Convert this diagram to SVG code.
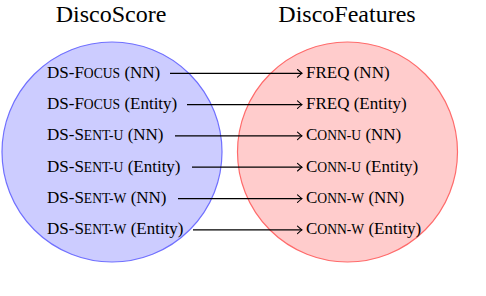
<svg xmlns="http://www.w3.org/2000/svg" width="486" height="296" viewBox="0 0 486 296">
<defs>
<style>
text{font-family:'Liberation Serif','Tinos','Nimbus Roman','Times New Roman','DejaVu Serif',serif;fill:#000}
.t{font-size:24px;text-anchor:middle}
.l{font-size:17px}
.sc{font-size:13.6px}
.c{stroke:#000;stroke-width:1.2;fill:none}
</style>
<marker id="ah" markerUnits="userSpaceOnUse" viewBox="-6 -5 7 10" refX="0" refY="0" markerWidth="7" markerHeight="10" orient="auto" overflow="visible">
<path d="M-4.5,-3.8 Q-1.2,-0.8 0,0 Q-1.2,0.8 -4.5,3.8" fill="none" stroke="#000" stroke-width="1.1" stroke-linecap="round"/>
</marker>
</defs>
<rect width="486" height="296" fill="#fff"/>
<g id="discoscore">
<circle cx="112" cy="152" r="110" fill="#ccccff" stroke="#7070ff" stroke-width="1.2"/>
<text class="t" x="111" y="21.5" font-family="Liberation Serif, serif">DiscoScore</text>
</g>
<g id="discofeatures">
<circle cx="347.5" cy="152" r="110" fill="#ffcccc" stroke="#ff6b6b" stroke-width="1.2"/>
<text class="t" x="347" y="21.5" font-family="Liberation Serif, serif">DiscoFeatures</text>
</g>
<g id="left-labels" font-family="Liberation Serif, serif">
<text class="l" x="47" y="77.8">DS-F<tspan class="sc">OCUS</tspan> (NN)</text>
<text class="l" x="47" y="109.1">DS-F<tspan class="sc">OCUS</tspan> (Entity)</text>
<text class="l" x="47" y="140.4">DS-S<tspan class="sc">ENT-U</tspan> (NN)</text>
<text class="l" x="47" y="171.7">DS-S<tspan class="sc">ENT-U</tspan> (Entity)</text>
<text class="l" x="47" y="203.1">DS-S<tspan class="sc">ENT-W</tspan> (NN)</text>
<text class="l" x="47" y="234.4">DS-S<tspan class="sc">ENT-W</tspan> (Entity)</text>
</g>
<g id="right-labels" font-family="Liberation Serif, serif">
<text class="l" x="306" y="77.8">FREQ (NN)</text>
<text class="l" x="306" y="109.1">FREQ (Entity)</text>
<text class="l" x="306" y="140.4">C<tspan class="sc">ONN-U</tspan> (NN)</text>
<text class="l" x="306" y="171.7">C<tspan class="sc">ONN-U</tspan> (Entity)</text>
<text class="l" x="306" y="203.1">C<tspan class="sc">ONN-W</tspan> (NN)</text>
<text class="l" x="306" y="234.4">C<tspan class="sc">ONN-W</tspan> (Entity)</text>
</g>
<g id="connectors">
<line class="c" x1="170" y1="73.3" x2="302" y2="73.3" marker-end="url(#ah)"/>
<line class="c" x1="187" y1="104.6" x2="302" y2="104.6" marker-end="url(#ah)"/>
<line class="c" x1="175" y1="135.9" x2="302" y2="135.9" marker-end="url(#ah)"/>
<line class="c" x1="192" y1="167.2" x2="302" y2="167.2" marker-end="url(#ah)"/>
<line class="c" x1="178" y1="198.6" x2="302" y2="198.6" marker-end="url(#ah)"/>
<line class="c" x1="193" y1="229.9" x2="302" y2="229.9" marker-end="url(#ah)"/>
</g>
</svg>
